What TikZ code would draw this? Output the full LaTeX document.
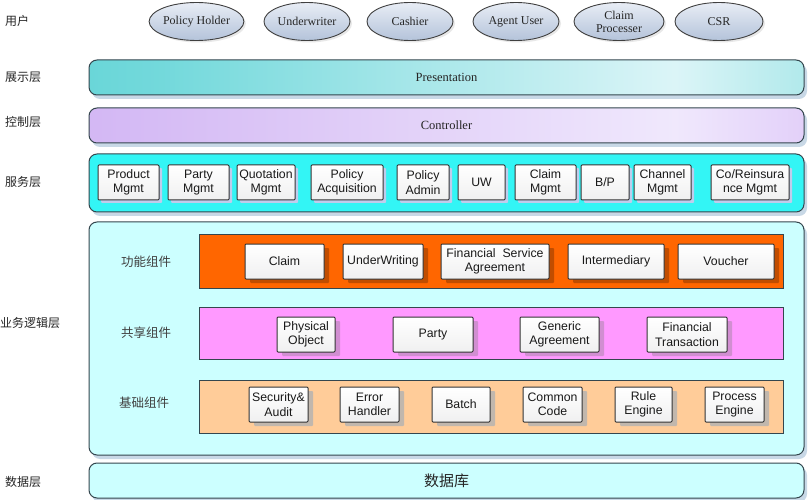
\documentclass[tikz,border=0pt]{standalone}
\usepackage{fontspec}
\setmainfont{Liberation Serif}
\setsansfont{Liberation Sans}
\newfontfamily\cjk{Noto Sans CJK SC}
\usetikzlibrary{shapes.geometric,shadows}
\definecolor{edge}{HTML}{34464E}
\definecolor{bizbg}{HTML}{CCFFFF}
\definecolor{svcbg}{HTML}{33F5F5}
\definecolor{orangeband}{HTML}{FF6600}
\definecolor{pinkband}{HTML}{FF99FF}
\definecolor{peachband}{HTML}{FFCC99}
\definecolor{barshadow}{HTML}{C8D8E6}
\definecolor{elltop}{HTML}{E8EDF5}
\definecolor{ellbot}{HTML}{B4C3DA}
\pgfdeclarehorizontalshading{presshade}{100bp}{rgb(0bp)=(0.24,0.79,0.79); rgb(30bp)=(0.45,0.85,0.86); rgb(66bp)=(0.86,0.96,0.97); rgb(100bp)=(0.24,0.79,0.79)}
\pgfdeclarehorizontalshading{ctrlshade}{100bp}{rgb(0bp)=(0.78,0.62,0.95); rgb(30bp)=(0.84,0.74,0.96); rgb(66bp)=(0.94,0.91,0.99); rgb(100bp)=(0.75,0.56,0.94)}
\tikzset{
  layerlbl/.style={anchor=west, font=\cjk\fontsize{12}{14}\selectfont, text=black!85, inner sep=0pt},
  bandlbl/.style={font=\cjk\fontsize{12.5}{14}\selectfont, text=black!75, inner sep=0pt},
  user/.style={ellipse, draw=black!75, line width=0.9pt, top color=elltop, bottom color=ellbot,
    minimum height=38pt, inner sep=0pt, align=center, font=\fontsize{12}{13}\selectfont, text=black!85,
    drop shadow={shadow xshift=2pt, shadow yshift=-2pt, fill=black!15, opacity=0.6}},
  bar/.style={rounded corners=8pt, draw=edge, line width=1pt, minimum width=715pt, inner sep=0pt,
    drop shadow={shadow xshift=3pt, shadow yshift=-4pt, fill=barshadow, opacity=1}},
  band/.style={draw=edge, line width=1pt, minimum width=584pt, minimum height=53pt, inner sep=0pt},
  box/.style={draw=black!80, line width=1pt, top color=white, bottom color=blue!4!black!6, rounded corners=1pt,
    minimum height=35pt, inner sep=0pt, align=center, font=\sffamily\fontsize{12.3}{14.5}\selectfont, text=black!90},
  svcbox/.style={box, drop shadow={shadow xshift=3pt, shadow yshift=-3pt, fill=cyan!45!blue!25!white, opacity=1}},
  fnbox/.style={box, drop shadow={shadow xshift=5pt, shadow yshift=-4pt, fill=orangeband!70!black, opacity=0.8}},
  shbox/.style={box, drop shadow={shadow xshift=5pt, shadow yshift=-4pt, fill=violet!45!white, opacity=0.8}},
  bsbox/.style={box, drop shadow={shadow xshift=5pt, shadow yshift=-4pt, fill=black!30, opacity=0.8}},
}
\begin{document}
\begin{tikzpicture}[x=1pt,y=-1pt]
\useasboundingbox[fill=white] (0,0) rectangle (812,500);

% layer labels
\node[layerlbl] (l1) at (5,21) {用户};
\node[layerlbl] (l2) at (5,77) {展示层};
\node[layerlbl] (l3) at (5,122) {控制层};
\node[layerlbl] (l4) at (5,182) {服务层};
\node[layerlbl] (l5) at (0,323) {业务逻辑层};
\node[layerlbl] (l6) at (5,482) {数据层};

% users
\node[user, minimum width=89pt] (u1) at (196.5,21.5) {Policy Holder};
\node[user, minimum width=86pt] (u2) at (307,21.5) {Underwriter};
\node[user, minimum width=86pt] (u3) at (410,21.5) {Cashier};
\node[user, minimum width=86pt] (u4) at (516,21.5) {Agent User};
\node[user, minimum width=90pt] (u5) at (619,21.5) {Claim\\Processer};
\node[user, minimum width=88pt] (u6) at (719,21.5) {CSR};

% presentation / controller
\node[bar, shading=presshade, minimum height=35pt, font=\fontsize{12.5}{14}\selectfont, text=black!85] (pres) at (446.5,77.5) {Presentation};
\node[bar, shading=ctrlshade, minimum height=35pt, font=\fontsize{12.5}{14}\selectfont, text=black!85] (ctrl) at (446.5,125.5) {Controller};

% service layer
\node[bar, fill=svcbg, minimum height=58pt] (svc) at (446.5,183) {};
\node[svcbox, minimum width=61pt] (s1) at (128.5,182.5) {Product\\Mgmt};
\node[svcbox, minimum width=61pt] (s2) at (198.5,182.5) {Party\\Mgmt};
\node[svcbox, minimum width=58pt] (s3) at (266,182.5) {Quotation\\Mgmt};
\node[svcbox, minimum width=72pt] (s4) at (347,182.5) {Policy\\Acquisition};
\node[svcbox, minimum width=52pt] (s5) at (423,182.5) {Policy\\Admin};
\node[svcbox, minimum width=47pt] (s6) at (481.5,182.5) {UW};
\node[svcbox, minimum width=61pt] (s7) at (545.5,182.5) {Claim\\Mgmt};
\node[svcbox, minimum width=48pt] (s8) at (605,182.5) {B/P};
\node[svcbox, minimum width=57pt] (s9) at (662.5,182.5) {Channel\\Mgmt};
\node[svcbox, minimum width=78pt] (s10) at (750,182.5) {Co/Reinsura\\nce Mgmt};

% business logic layer
\node[bar, fill=bizbg, minimum height=233pt] (biz) at (446.5,338.5) {};

\node[bandlbl] (g1) at (146,262) {功能组件};
\node[bandlbl] (g2) at (146,333) {共享组件};
\node[bandlbl] (g3) at (144,403) {基础组件};

\node[band, fill=orangeband] (b1) at (491,261.5) {};
\node[fnbox, minimum width=79pt] (f1) at (284.5,261.5) {Claim};
\node[fnbox, minimum width=80pt] (f2) at (383,261.5) {UnderWriting};
\node[fnbox, minimum width=108pt] (f3) at (495,261.5) {Financial~~Service\\Agreement};
\node[fnbox, minimum width=96pt] (f4) at (616,261.5) {Intermediary};
\node[fnbox, minimum width=96pt] (f5) at (726,261.5) {Voucher};

\node[band, fill=pinkband, minimum height=52pt] (b2) at (491,333) {};
\node[shbox, minimum width=58pt] (h1) at (306,334.5) {Physical\\Object};
\node[shbox, minimum width=80pt] (h2) at (433,334.5) {Party};
\node[shbox, minimum width=79pt] (h3) at (559.5,334.5) {Generic\\Agreement};
\node[shbox, minimum width=80pt] (h4) at (687,334.5) {Financial\\Transaction};

\node[band, fill=peachband] (b3) at (491,406.5) {};
\node[bsbox, minimum width=59pt] (c1) at (278.5,404.5) {Security\&\\Audit};
\node[bsbox, minimum width=59pt] (c2) at (369.5,404.5) {Error\\Handler};
\node[bsbox, minimum width=58pt] (c3) at (461,404.5) {Batch};
\node[bsbox, minimum width=59pt] (c4) at (552.5,404.5) {Common\\Code};
\node[bsbox, minimum width=57pt] (c5) at (643.5,404.5) {Rule\\Engine};
\node[bsbox, minimum width=59pt] (c6) at (734.5,404.5) {Process\\Engine};

% data layer
\node[bar, fill=bizbg, minimum height=35pt, font=\cjk\fontsize{15}{17}\selectfont, text=black!85] (data) at (446.5,480.5) {数据库};
\end{tikzpicture}
\end{document}
